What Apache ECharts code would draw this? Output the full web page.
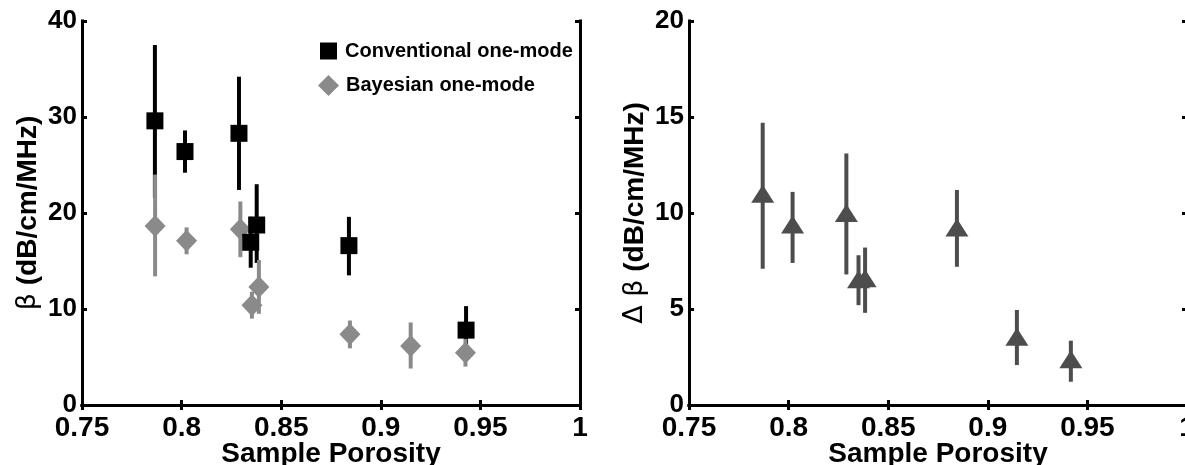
<!DOCTYPE html>
<html>
<head>
<meta charset="utf-8">
<script src="https://cdn.jsdelivr.net/npm/echarts@6/dist/echarts.min.js"></script>
<style>
  html, body { margin: 0; padding: 0; background: #fff; }
  #chart { width: 1185px; height: 465px; }
</style>
</head>
<body>
<div id="chart"></div>
<script>
// ---- Data ----
// Left panel: attenuation slope beta vs porosity
const convX    = [0.7866, 0.8017, 0.8288, 0.8377, 0.8347, 0.8840, 0.9428];
const convY    = [29.6,   26.4,   28.3,   18.75,  16.95,  16.6,   7.8];
const convLow  = [21.6,   24.2,   22.4,   14.8,   14.3,   13.5,   5.3];
const convHigh = [37.5,   28.6,   34.2,   23.0,   19.6,   19.6,   10.3];

const bayesX    = [0.7867, 0.8025, 0.8295, 0.8353, 0.8388, 0.8845, 0.9150, 0.9425];
const bayesY    = [18.65,  17.1,   18.3,   10.4,   12.3,   7.36,   6.15,   5.45];
const bayesLow  = [13.4,   15.7,   15.4,   9.0,    9.5,    5.9,    3.8,    4.0];
const bayesHigh = [24.0,   18.5,   21.2,   11.8,   15.1,   8.8,    8.6,    6.9];

// Right panel: delta beta vs porosity
const deltaX    = [0.7870, 0.8020, 0.8290, 0.8351, 0.8384, 0.8845, 0.9146, 0.9417];
const deltaY    = [11.0,   9.4,    10.0,   6.55,   6.6,    9.25,   3.56,   2.38];
const deltaLow  = [7.1,    7.4,    6.8,    5.2,    4.8,    7.2,    2.08,   1.21];
const deltaHigh = [14.7,   11.1,   13.1,   7.8,    8.2,    11.2,   4.95,   3.35];

const xTickLabels = ['0.75', '0.8', '0.85', '0.9', '0.95', '1'];
const leftYTicks  = ['0', '10', '20', '30', '40'];
const rightYTicks = ['0', '5', '10', '15', '20'];
const seriesNames = ['Conventional one-mode', 'Bayesian one-mode'];

// ---- Styling ----
const FONT = '"Liberation Sans", Arial, Helvetica, sans-serif';
const lineStyle = { color: '#000', width: 3, cap: 'square' };
const tickStyle = { show: true, inside: true, length: 5, lineStyle: { color: '#000', width: 3 } };

function xAxes(grid) {
  return [
    { type: 'value', gridIndex: grid, min: 0.75, max: 1, interval: 0.05, position: 'bottom',
      axisLine: { show: true, lineStyle }, axisTick: tickStyle, splitLine: { show: false },
      axisLabel: { margin: 9, color: '#000', fontFamily: FONT, fontWeight: 'bold', fontSize: 28,
        formatter: (v) => xTickLabels[Math.round((v - 0.75) / 0.05)] },
      name: 'Sample Porosity', nameLocation: 'middle', nameGap: 35, nameMoveOverlap: false,
      nameTextStyle: { color: '#000', fontFamily: FONT, fontWeight: 'bold', fontSize: 28 } },
    { type: 'value', gridIndex: grid, min: 0.75, max: 1, interval: 0.05, position: 'top',
      axisLine: { show: true, lineStyle }, axisTick: tickStyle, splitLine: { show: false },
      axisLabel: { show: false } }
  ];
}
function yAxes(grid, max, interval, ticks, nameRich) {
  return [
    { type: 'value', gridIndex: grid, min: 0, max: max, interval: interval, position: 'left',
      axisLine: { show: true, lineStyle }, axisTick: tickStyle, splitLine: { show: false },
      axisLabel: { margin: 5, color: '#000', fontFamily: FONT, fontWeight: 'bold', fontSize: 26,
        formatter: (v) => ticks[Math.round(v / interval)] },
      name: nameRich, nameLocation: 'middle', nameGap: 40, nameRotate: 90, nameMoveOverlap: false,
      nameTextStyle: {
        color: '#000', fontFamily: FONT, fontWeight: 'bold', fontSize: 28,
        rich: {
          s: { fontFamily: '"DejaVu Sans", sans-serif', fontWeight: 'normal', fontSize: 27, color: '#000' },
          b: { fontFamily: FONT, fontWeight: 'bold', fontSize: 28, color: '#000' }
        }
      } },
    { type: 'value', gridIndex: grid, min: 0, max: max, interval: interval, position: 'right',
      axisLine: { show: true, lineStyle }, axisTick: tickStyle, splitLine: { show: false },
      axisLabel: { show: false } }
  ];
}

function errorBars(xs, lo, hi, color, xi, yi, z) {
  return {
    type: 'custom', xAxisIndex: xi, yAxisIndex: yi, z: z, silent: true, clip: false,
    data: xs.map((x, i) => [x, lo[i], hi[i]]),
    encode: { x: 0, y: [1, 2] },
    renderItem: function (params, api) {
      const p1 = api.coord([api.value(0), api.value(1)]);
      const p2 = api.coord([api.value(0), api.value(2)]);
      return { type: 'line', shape: { x1: p1[0], y1: p1[1], x2: p2[0], y2: p2[1] },
               style: { stroke: color, lineWidth: 4 } };
    }
  };
}

const BLACK = '#000000';
const GRAY = '#8a8a8a';
const DARK = '#4d4d4d';

const option = {
  animation: false,
  backgroundColor: '#ffffff',
  grid: [
    { left: 82, top: 21, width: 498, height: 384, containLabel: false, outerBoundsMode: 'none' },
    { left: 689, top: 21, width: 498, height: 384, containLabel: false, outerBoundsMode: 'none' }
  ],
  xAxis: xAxes(0).concat(xAxes(1)),
  yAxis: yAxes(0, 40, 10, leftYTicks, '{s|β} {b|(dB/cm/MHz)}')
        .concat(yAxes(1, 20, 5, rightYTicks, '{s|Δ β} {b|(dB/cm/MHz)}')),
  legend: [
    { data: [seriesNames[0]], left: 315, top: 36, itemWidth: 17, itemHeight: 17, orient: 'vertical',
      textStyle: { color: '#000', fontFamily: FONT, fontWeight: 'bold', fontSize: 20, padding: [0, 0, 0, 3] } },
    { data: [seriesNames[1]], left: 313, top: 70, itemWidth: 21, itemHeight: 21, orient: 'vertical',
      textStyle: { color: '#000', fontFamily: FONT, fontWeight: 'bold', fontSize: 20, padding: [0, 0, 0, 2] } }
  ],
  series: [
    errorBars(convX, convLow, convHigh, BLACK, 0, 0, 2),
    errorBars(bayesX, bayesLow, bayesHigh, GRAY, 0, 0, 3),
    { name: seriesNames[1], type: 'scatter', xAxisIndex: 0, yAxisIndex: 0, z: 4,
      symbol: 'diamond', symbolSize: [21, 22], itemStyle: { color: GRAY, opacity: 1 },
      data: bayesX.map((x, i) => [x, bayesY[i]]) },
    { name: seriesNames[0], type: 'scatter', xAxisIndex: 0, yAxisIndex: 0, z: 5,
      symbol: 'rect', symbolSize: 17, itemStyle: { color: BLACK, opacity: 1 },
      data: convX.map((x, i) => [x, convY[i]]) },
    errorBars(deltaX, deltaLow, deltaHigh, DARK, 2, 2, 3),
    { name: 'Delta beta', type: 'scatter', xAxisIndex: 2, yAxisIndex: 2, z: 4,
      symbol: 'triangle', symbolSize: [23, 18], itemStyle: { color: DARK, opacity: 1 },
      data: deltaX.map((x, i) => [x, deltaY[i]]) }
  ]
};

const chart = echarts.init(document.getElementById('chart'), null, { renderer: 'canvas' });
chart.setOption(option);
</script>
</body>
</html>
